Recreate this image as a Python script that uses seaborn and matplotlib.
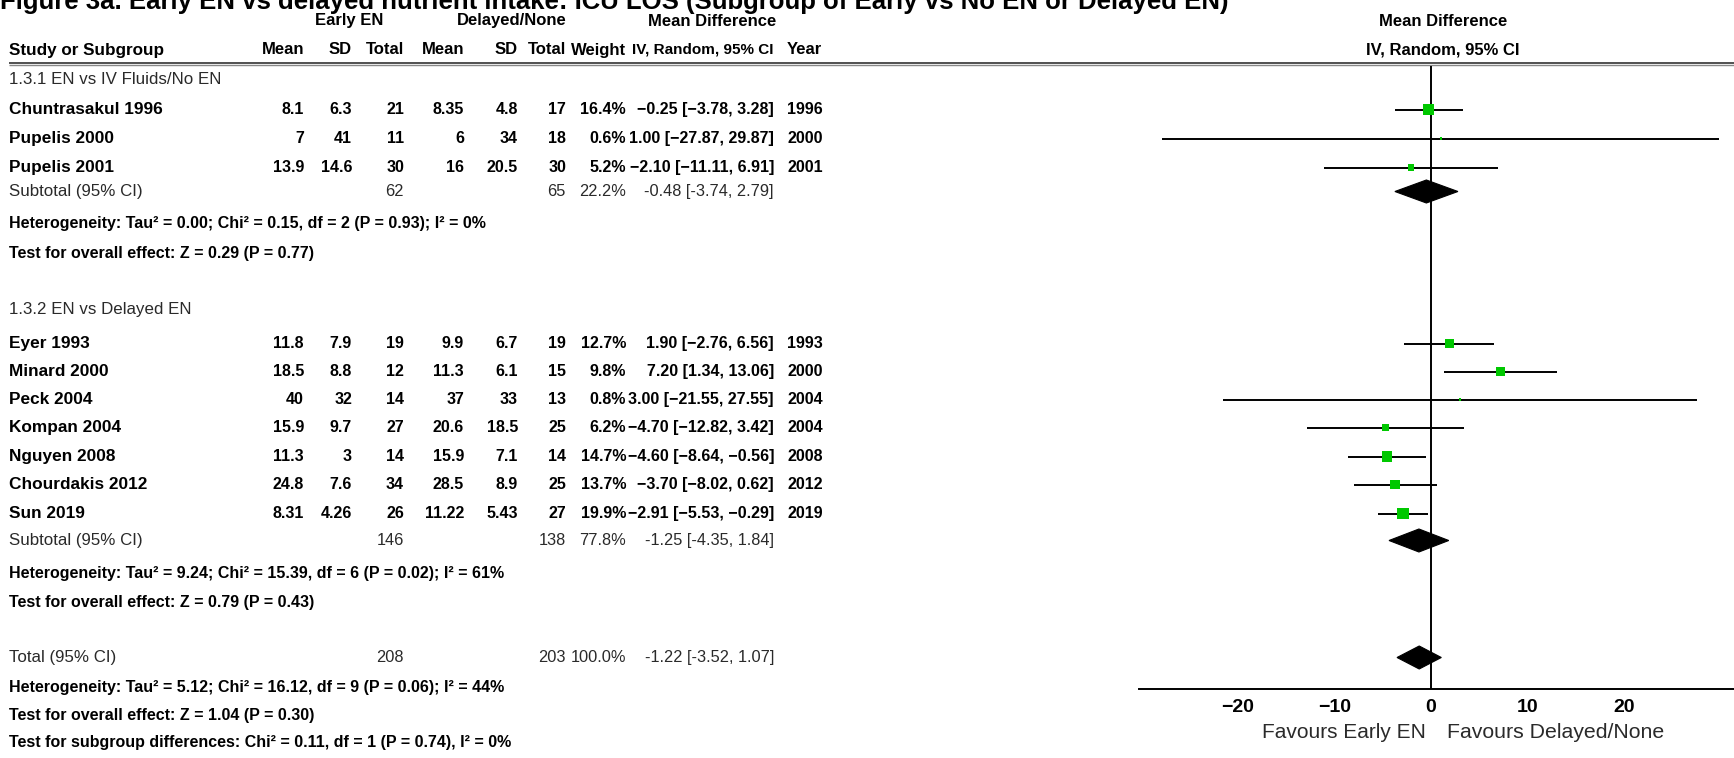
import matplotlib
matplotlib.use("Agg")
import matplotlib.pyplot as plt
import seaborn as sns
import pandas as pd
from matplotlib.patches import Polygon

sns.set_theme(style="white")
plt.rcParams["font.family"] = ["Liberation Sans", "DejaVu Sans"]

# ---------------- data ----------------
title = "Figure 3a. Early EN vs delayed nutrient intake: ICU LOS (Subgroup of Early vs No EN or Delayed EN)"

group_labels = ["1.3.1 EN vs IV Fluids/No EN", "1.3.2 EN vs Delayed EN"]

studies1 = ["Chuntrasakul 1996", "Pupelis 2000", "Pupelis 2001"]
e_mean1 = ["8.1", "7", "13.9"]
e_sd1 = ["6.3", "41", "14.6"]
e_n1 = [21, 11, 30]
d_mean1 = ["8.35", "6", "16"]
d_sd1 = ["4.8", "34", "20.5"]
d_n1 = [17, 18, 30]
weight1 = [16.4, 0.6, 5.2]
md1 = [-0.25, 1.00, -2.10]
lo1 = [-3.78, -27.87, -11.11]
hi1 = [3.28, 29.87, 6.91]
year1 = [1996, 2000, 2001]

studies2 = ["Eyer 1993", "Minard 2000", "Peck 2004", "Kompan 2004",
            "Nguyen 2008", "Chourdakis 2012", "Sun 2019"]
e_mean2 = ["11.8", "18.5", "40", "15.9", "11.3", "24.8", "8.31"]
e_sd2 = ["7.9", "8.8", "32", "9.7", "3", "7.6", "4.26"]
e_n2 = [19, 12, 14, 27, 14, 34, 26]
d_mean2 = ["9.9", "11.3", "37", "20.6", "15.9", "28.5", "11.22"]
d_sd2 = ["6.7", "6.1", "33", "18.5", "7.1", "8.9", "5.43"]
d_n2 = [19, 15, 13, 25, 14, 25, 27]
weight2 = [12.7, 9.8, 0.8, 6.2, 14.7, 13.7, 19.9]
md2 = [1.90, 7.20, 3.00, -4.70, -4.60, -3.70, -2.91]
lo2 = [-2.76, 1.34, -21.55, -12.82, -8.64, -8.02, -5.53]
hi2 = [6.56, 13.06, 27.55, 3.42, -0.56, 0.62, -0.29]
year2 = [1993, 2000, 2004, 2004, 2008, 2012, 2019]

pooled_labels = ["Subtotal (95% CI)", "Subtotal (95% CI)", "Total (95% CI)"]
pooled_e_n = [62, 146, 208]
pooled_d_n = [65, 138, 203]
pooled_weight = ["22.2%", "77.8%", "100.0%"]
pooled_md = [-0.48, -1.25, -1.22]
pooled_lo = [-3.74, -4.35, -3.52]
pooled_hi = [2.79, 1.84, 1.07]

het1 = ["Heterogeneity: Tau\u00b2 = 0.00; Chi\u00b2 = 0.15, df = 2 (P = 0.93); I\u00b2 = 0%",
        "Test for overall effect: Z = 0.29 (P = 0.77)"]
het2 = ["Heterogeneity: Tau\u00b2 = 9.24; Chi\u00b2 = 15.39, df = 6 (P = 0.02); I\u00b2 = 61%",
        "Test for overall effect: Z = 0.79 (P = 0.43)"]
het_tot = ["Heterogeneity: Tau\u00b2 = 5.12; Chi\u00b2 = 16.12, df = 9 (P = 0.06); I\u00b2 = 44%",
           "Test for overall effect: Z = 1.04 (P = 0.30)",
           "Test for subgroup differences: Chi\u00b2 = 0.11, df = 1 (P = 0.74), I\u00b2 = 0%"]

xticks = [-20, -10, 0, 10, 20]
favours = ["Favours Early EN", "Favours Delayed/None"]

# ---------------- layout (pixels) ----------------
W, H = 1734, 758
y_hdr1, y_hdr2, y_line = 21, 50, 64
y_g1 = 80
y_rows1 = [109.5, 138.5, 167.5]
y_sub1 = 191.5
y_het1 = [223.5, 253.5]
y_g2 = 309.5
y_rows2 = [343.5, 371.5, 399.5, 427.5, 456.5, 484.5, 513.5]
y_sub2 = 540.5
y_het2 = [573.5, 603]
y_tot = 657.5
y_hettot = [687.5, 715.5, 743]
y_axis = 689

col_x = dict(study=9, emean=304, esd=352, en=404, dmean=464, dsd=518, dn=566,
             weight=626, ci=774, year=787)
FS = 11.5
FS_NAME = 12.4
FS_REG = 12.2

fig = plt.figure(figsize=(W / 100, H / 100), dpi=100)
fig.patch.set_facecolor("white")

tab = fig.add_axes([0, 0, 1, 1])
tab.set_xlim(0, W)
tab.set_ylim(H, 0)
tab.axis("off")

def t(x, y, s, ha="left", bold=True, color="black", size=FS):
    tab.text(x, y, s, ha=ha, va="center", fontsize=size,
             fontweight="bold" if bold else "normal", color=color)

def fmt_ci(m, l, h, minus="\u2212"):
    f = lambda v: (f"{v:.2f}").replace("-", minus)
    return f"{f(m)} [{f(l)}, {f(h)}]"

# title (clipped at the top edge, as in the source image)
t(0, 2, title, size=18.5)

# headers
t(349, y_hdr1, "Early EN", ha="center", size=12)
t(512, y_hdr1, "Delayed/None", ha="center", size=12)
t(712, y_hdr1, "Mean Difference", ha="center", size=12)
t(1443, y_hdr1, "Mean Difference", ha="center", size=12)
t(col_x["study"], y_hdr2, "Study or Subgroup", size=12.3)
for key, lab in [("emean", "Mean"), ("esd", "SD"), ("en", "Total"), ("dmean", "Mean"),
                 ("dsd", "SD"), ("dn", "Total"), ("weight", "Weight")]:
    t(col_x[key], y_hdr2, lab, ha="right", size=12)
t(col_x["ci"], y_hdr2, "IV, Random, 95% CI", ha="right", size=11)
t(col_x["year"], y_hdr2, "Year", size=12)
t(1443, y_hdr2, "IV, Random, 95% CI", ha="center", size=12)
tab.plot([9, W], [y_line - 1, y_line - 1], color="#333333", lw=1.2, solid_capstyle="butt")
tab.plot([9, W], [y_line + 1.3, y_line + 1.3], color="#888888", lw=1.0, solid_capstyle="butt")

def study_rows(ys, names, em, es, en, dm, ds, dn, w, md, lo, hi, yr):
    for i, y in enumerate(ys):
        t(col_x["study"], y, names[i], size=FS_NAME)
        t(col_x["emean"], y, em[i], ha="right")
        t(col_x["esd"], y, es[i], ha="right")
        t(col_x["en"], y, str(en[i]), ha="right")
        t(col_x["dmean"], y, dm[i], ha="right")
        t(col_x["dsd"], y, ds[i], ha="right")
        t(col_x["dn"], y, str(dn[i]), ha="right")
        t(col_x["weight"], y, f"{w[i]:.1f}%", ha="right")
        t(col_x["ci"], y, fmt_ci(md[i], lo[i], hi[i]), ha="right")
        t(col_x["year"], y, str(yr[i]))

gc = "#2a2a2a"
t(col_x["study"], y_g1, group_labels[0], bold=False, color=gc, size=FS_REG)
study_rows(y_rows1, studies1, e_mean1, e_sd1, e_n1, d_mean1, d_sd1, d_n1,
           weight1, md1, lo1, hi1, year1)
t(col_x["study"], y_g2, group_labels[1], bold=False, color=gc, size=FS_REG)
study_rows(y_rows2, studies2, e_mean2, e_sd2, e_n2, d_mean2, d_sd2, d_n2,
           weight2, md2, lo2, hi2, year2)

pooled_y = [y_sub1, y_sub2, y_tot]
for i, y in enumerate(pooled_y):
    t(col_x["study"], y, pooled_labels[i], bold=False, color=gc, size=FS_REG)
    t(col_x["en"], y, str(pooled_e_n[i]), ha="right", bold=False, color=gc, size=11.8)
    t(col_x["dn"], y, str(pooled_d_n[i]), ha="right", bold=False, color=gc, size=11.8)
    t(col_x["weight"], y, pooled_weight[i], ha="right", bold=False, color=gc, size=11.8)
    t(col_x["ci"], y, fmt_ci(pooled_md[i], pooled_lo[i], pooled_hi[i], minus="-"),
      ha="right", bold=False, color=gc, size=11.8)

for txts, ys in [(het1, y_het1), (het2, y_het2), (het_tot, y_hettot)]:
    for s, y in zip(txts, ys):
        t(col_x["study"], y, s)

# ---------------- forest plot ----------------
ax_left, ax_right = 1139, 1734
x_lo, x_hi = -30.26, 31.4
ax = fig.add_axes([ax_left / W, 0, (ax_right - ax_left) / W, 1])
ax.set_facecolor("none")
ax.set_xlim(x_lo, x_hi)
ax.set_ylim(H, 0)

df = pd.DataFrame({
    "md": md1 + md2,
    "lo": lo1 + lo2,
    "hi": hi1 + hi2,
    "weight": weight1 + weight2,
    "y": y_rows1 + y_rows2,
})
ax.hlines(df["y"], df["lo"], df["hi"], color="black", lw=1.4, zorder=2)
wmin, wmax = min(df["weight"]), max(df["weight"])
smax = 72
sns.scatterplot(data=df, x="md", y="y", size="weight",
                sizes=(smax * wmin / wmax, smax), size_norm=(wmin, wmax),
                marker="s", color="#00c800", edgecolor="none", linewidth=0,
                legend=False, ax=ax, zorder=3)

half_h = 11.5
for m, l, h, y in zip(pooled_md, pooled_lo, pooled_hi, pooled_y):
    ax.add_patch(Polygon([(l, y), (m, y - half_h), (h, y), (m, y + half_h)],
                         closed=True, facecolor="black", edgecolor="black", lw=0.8, zorder=4))

ax.vlines(0, y_line + 2, y_axis, color="black", lw=1.4, zorder=1)

for s in ["top", "left", "right"]:
    ax.spines[s].set_visible(False)
ax.spines["bottom"].set_position(("data", y_axis))
ax.spines["bottom"].set_color("black")
ax.spines["bottom"].set_linewidth(1.4)
ax.set_yticks([])
ax.set_xticks(xticks)
ax.set_xticklabels([str(v).replace("-", "\u2212") for v in xticks],
                   fontsize=14, fontweight="bold")
ax.tick_params(axis="x", direction="inout", length=20, width=1.2, pad=-3, colors="black")
ax.set_xlabel("")
ax.set_ylabel("")
ax.grid(False)

t(1426, 732, favours[0], ha="right", bold=False, color=gc, size=15)
t(1447, 732, favours[1], ha="left", bold=False, color=gc, size=15.3)

fig.savefig("out.png", dpi=100)
